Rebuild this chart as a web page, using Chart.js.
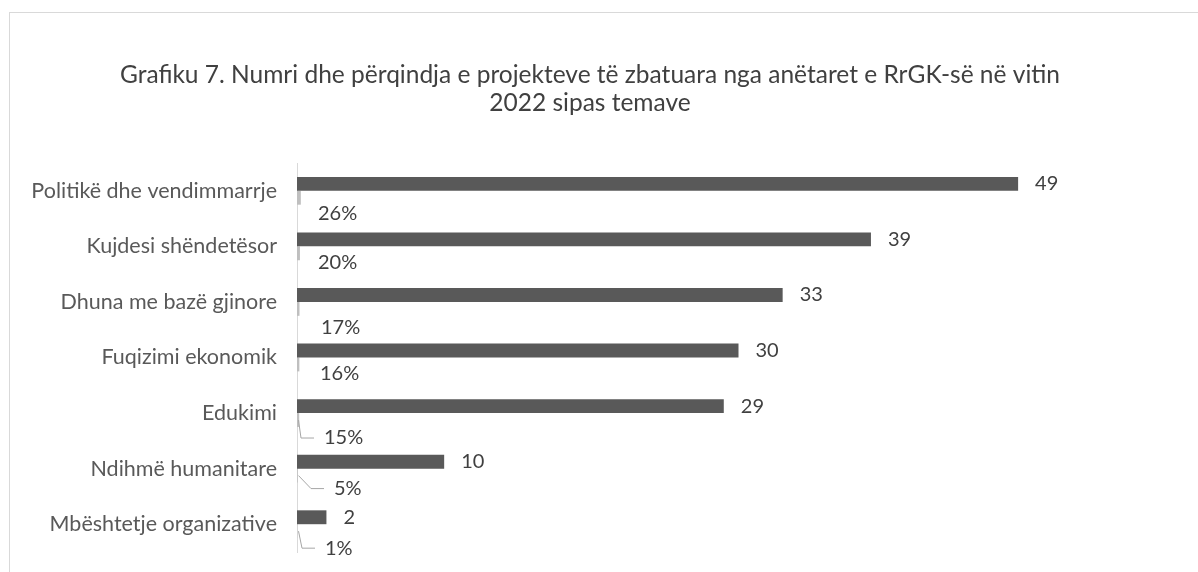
<!DOCTYPE html>
<html>
<head>
<meta charset="utf-8">
<script src="https://cdn.jsdelivr.net/npm/chart.js@4/dist/chart.umd.min.js"></script>
<style>
  html, body { margin: 0; padding: 0; background: #fff; overflow: hidden; }
  #frame {
    position: absolute; left: 9px; top: 12px; width: 1400px; height: 800px;
    border: 1px solid #d9d9d9; box-sizing: border-box;
  }
  #wrap { position: absolute; left: 0; top: 0; width: 1198px; height: 572px; }
</style>
</head>
<body>
<div id="frame"></div>
<div id="wrap"><canvas id="chart"></canvas></div>
<script>
const categories = [
  "Politikë dhe vendimmarrje",
  "Kujdesi shëndetësor",
  "Dhuna me bazë gjinore",
  "Fuqizimi ekonomik",
  "Edukimi",
  "Ndihmë humanitare",
  "Mbështetje organizative",
];
const projectCounts = [49, 39, 33, 30, 29, 10, 2];
const projectShares = [0.26, 0.2, 0.17, 0.16, 0.15, 0.05, 0.01];

const titleLines = [
  "Grafiku 7. Numri dhe përqindja e projekteve të zbatuara nga anëtaret e RrGK-së në vitin",
  "2022 sipas temave",
];

// manual label nudges for the % labels (like moved labels in the original)
const shareLabelShift = [
  { dx: 21, dy: 16, leader: false },
  { dx: 21, dy: 9, leader: false },
  { dx: 24, dy: 19, leader: false },
  { dx: 23, dy: 9, leader: false },
  { dx: 27, dy: 18, leader: true },
  { dx: 37, dy: 13, leader: true },
  { dx: 28, dy: 17, leader: true },
];

const FONT = "Lato, 'Open Sans', sans-serif";
const textColor = "#404040";
const leaderColor = "#a6a6a6";

const valueLabels = {
  id: "valueLabels",
  afterDatasetsDraw(chart) {
    const { ctx } = chart;
    ctx.save();
    ctx.font = `20px ${FONT}`;
    ctx.fillStyle = textColor;
    ctx.textBaseline = "middle";
    ctx.textAlign = "left";

    chart.getDatasetMeta(0).data.forEach((bar, i) => {
      ctx.fillText(String(projectCounts[i]), bar.x + 17, bar.y);
    });

    chart.getDatasetMeta(1).data.forEach((bar, i) => {
      const s = shareLabelShift[i];
      const tx = bar.base + s.dx;
      const ty = bar.y + s.dy;
      if (s.leader) {
        ctx.strokeStyle = leaderColor;
        ctx.lineWidth = 1;
        ctx.beginPath();
        ctx.moveTo(bar.base + 1.5, bar.y);
        ctx.lineTo(tx - 23, ty);
        ctx.lineTo(tx - 10, ty);
        ctx.stroke();
      }
      ctx.fillText(Math.round(projectShares[i] * 100) + "%", tx, ty);
    });
    ctx.restore();
  },
};

new Chart(document.getElementById("chart"), {
  type: "bar",
  data: {
    labels: categories,
    datasets: [
      {
        data: projectCounts,
        backgroundColor: "#595959",
        barPercentage: 1,
        categoryPercentage: 0.5,
      },
      {
        data: projectShares,
        backgroundColor: "#bfbfbf",
        barPercentage: 1,
        categoryPercentage: 0.5,
      },
    ],
  },
  options: {
    indexAxis: "y",
    responsive: true,
    maintainAspectRatio: false,
    animation: false,
    layout: { padding: { left: 0, right: 18, top: 0, bottom: 20 } },
    plugins: {
      legend: { display: false },
      tooltip: { enabled: false },
      title: {
        display: true,
        text: titleLines,
        color: textColor,
        font: { family: FONT, size: 24.5, weight: "normal", lineHeight: 1.143 },
        padding: { top: 61, bottom: 46 },
      },
    },
    scales: {
      x: {
        display: false,
        min: 0,
        max: 60,
      },
      y: {
        grid: { display: false, drawTicks: false },
        border: { display: true, color: "#d9d9d9", width: 1 },
        ticks: {
          color: "#595959",
          padding: 20,
          font: { family: FONT, size: 21.5 },
        },
        afterFit: (scale) => {
          scale.width = 297;
          scale.paddingTop = 0;
          scale.paddingBottom = 0;
        },
      },
    },
  },
  plugins: [valueLabels],
});
</script>
</body>
</html>
